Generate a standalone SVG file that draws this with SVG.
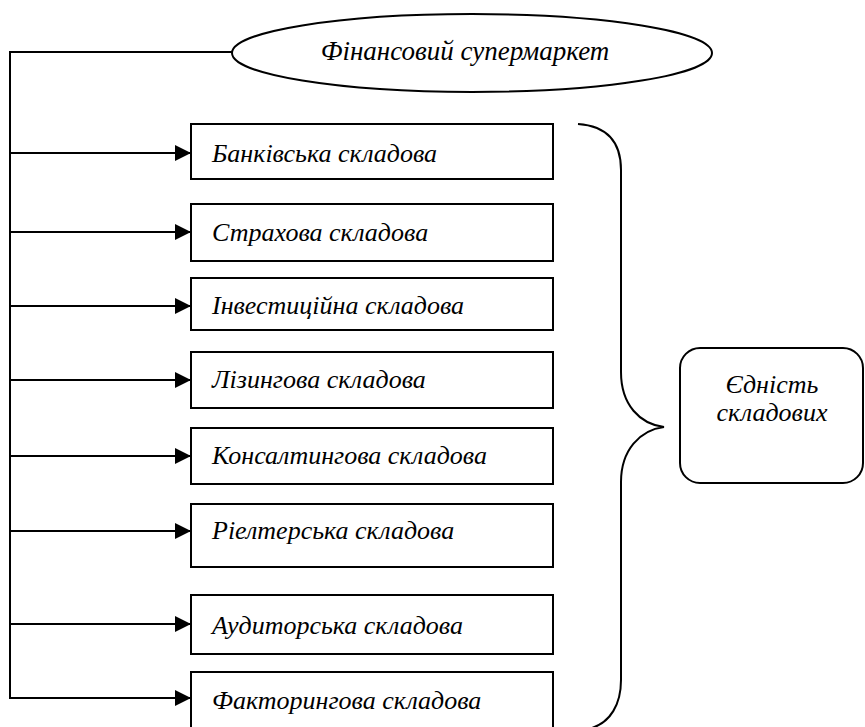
<svg xmlns="http://www.w3.org/2000/svg" width="865" height="727" viewBox="0 0 865 727">
<defs>
<style>
.s{fill:none;stroke:#000;stroke-width:2}
.b{fill:#fff;stroke:#000;stroke-width:2}
.t{font-family:"Liberation Serif","Times New Roman",serif;font-style:italic;font-size:26px;fill:#000}
</style>
<marker id="ah" viewBox="0 0 16 16" refX="16" refY="8" markerWidth="16" markerHeight="16" markerUnits="userSpaceOnUse" orient="auto">
<path d="M0,0 L16,8 L0,16 Z" fill="#000"/>
</marker>
</defs>
<g id="connectors">
<path class="s" d="M232,52 H10 V699"/>
<path class="s" d="M10,153 H191" marker-end="url(#ah)"/>
<path class="s" d="M10,232 H191" marker-end="url(#ah)"/>
<path class="s" d="M10,306 H191" marker-end="url(#ah)"/>
<path class="s" d="M10,380 H191" marker-end="url(#ah)"/>
<path class="s" d="M10,456 H191" marker-end="url(#ah)"/>
<path class="s" d="M10,531 H191" marker-end="url(#ah)"/>
<path class="s" d="M10,624 H191" marker-end="url(#ah)"/>
<path class="s" d="M10,698 H191" marker-end="url(#ah)"/>
</g>
<g id="root">
<ellipse class="b" cx="472" cy="53" rx="240" ry="39"/>
<text class="t" x="465" y="60" text-anchor="middle" style="font-size:27px">Фінансовий супермаркет</text>
</g>
<g id="n1"><rect class="b" x="191" y="124" width="362" height="55"/><text class="t" x="212" y="162">Банківська складова</text></g>
<g id="n2"><rect class="b" x="191" y="204" width="362" height="57"/><text class="t" x="212" y="241">Страхова складова</text></g>
<g id="n3"><rect class="b" x="191" y="278" width="362" height="52"/><text class="t" x="212" y="314">Інвестиційна складова</text></g>
<g id="n4"><rect class="b" x="191" y="352" width="362" height="56"/><text class="t" x="212" y="388">Лізингова складова</text></g>
<g id="n5"><rect class="b" x="191" y="428" width="362" height="56"/><text class="t" x="212" y="464">Консалтингова складова</text></g>
<g id="n6"><rect class="b" x="191" y="504" width="362" height="63"/><text class="t" x="212" y="539">Ріелтерська складова</text></g>
<g id="n7"><rect class="b" x="191" y="595" width="362" height="59"/><text class="t" x="212" y="634">Аудиторська складова</text></g>
<g id="n8"><rect class="b" x="191" y="672" width="362" height="60"/><text class="t" x="212" y="709">Факторингова складова</text></g>
<g id="brace">
<path class="s" d="M578,124 C606,126 621,140 621,170 V372 C621,405 640,424 664,427 C640,430 621,450 621,482 V680 C621,705 610,722 592,728"/>
</g>
<g id="unity">
<rect class="b" x="680" y="348" width="183" height="135" rx="20" ry="20"/>
<text class="t" x="772" y="393" text-anchor="middle">Єдність</text>
<text class="t" x="772" y="421" text-anchor="middle">складових</text>
</g>
</svg>
